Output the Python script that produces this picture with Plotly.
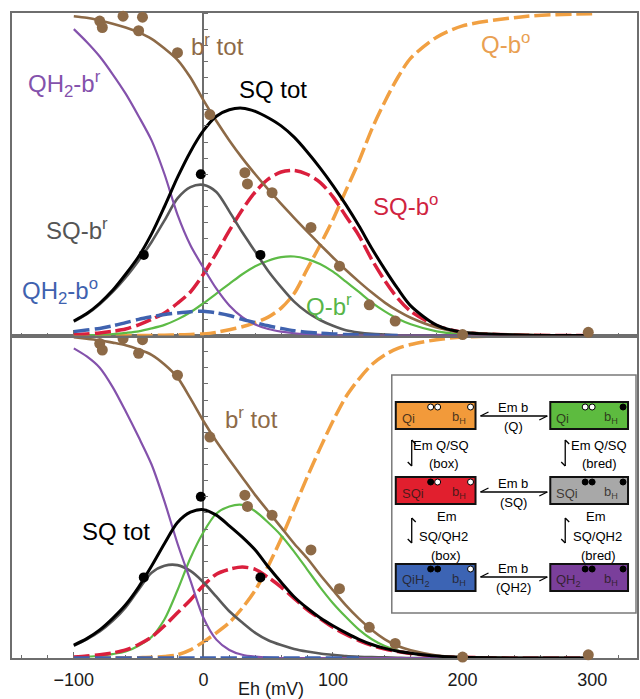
import plotly.graph_objects as go

# ---------------------------------------------------------------- data
# Redox potential grid (mV)
EH = [-100, -90, -80, -70, -60, -50, -40, -30, -20, -10, 0, 10, 20, 30, 40, 50,
      60, 70, 80, 90, 100, 110, 120, 130, 140, 150, 160, 180, 200, 250, 300]

# Upper panel: fractional populations of each Qi / heme bH state
top_qh2_bred = [0.95, 0.91, 0.865, 0.81, 0.75, 0.68, 0.605, 0.50, 0.375, 0.28, 0.21, 0.145,
                0.093, 0.057, 0.034, 0.02, 0.012, 0.007, 0.004, 0.002, 0.001, 0, 0, 0, 0,
                0, 0, 0, 0, 0, 0]
top_br_tot = [0.99, 0.985, 0.977, 0.967, 0.955, 0.94, 0.92, 0.89, 0.855, 0.80, 0.73, 0.665,
              0.605, 0.55, 0.50, 0.453, 0.408, 0.365, 0.323, 0.282, 0.242, 0.203, 0.167,
              0.133, 0.102, 0.076, 0.055, 0.025, 0.01, 0.002, 0.0]
top_sq_tot = [0.045, 0.068, 0.10, 0.14, 0.19, 0.245, 0.315, 0.40, 0.49, 0.57, 0.635, 0.68,
              0.70, 0.705, 0.695, 0.675, 0.65, 0.615, 0.57, 0.52, 0.465, 0.405, 0.34, 0.27,
              0.205, 0.145, 0.092, 0.032, 0.01, 0.001, 0.0]
top_sq_bred = [0.043, 0.066, 0.097, 0.135, 0.18, 0.232, 0.29, 0.357, 0.425, 0.46, 0.467,
               0.445, 0.385, 0.32, 0.26, 0.20, 0.15, 0.105, 0.072, 0.048, 0.03, 0.016, 0.009,
               0.005, 0.003, 0.001, 0, 0, 0, 0, 0]
top_sq_box = [0.003, 0.005, 0.008, 0.013, 0.02, 0.033, 0.05, 0.07, 0.10, 0.135, 0.19, 0.255,
              0.325, 0.39, 0.445, 0.485, 0.507, 0.512, 0.50, 0.475, 0.43, 0.37, 0.31, 0.235,
              0.17, 0.115, 0.075, 0.03, 0.01, 0.001, 0.0]
top_q_bred = [0.0, 0.001, 0.002, 0.004, 0.008, 0.013, 0.022, 0.033, 0.05, 0.072, 0.10, 0.13,
              0.16, 0.19, 0.215, 0.232, 0.243, 0.245, 0.237, 0.222, 0.198, 0.167, 0.135, 0.102,
              0.075, 0.052, 0.035, 0.013, 0.004, 0.0, 0.0]
top_qh2_box = [0.012, 0.017, 0.022, 0.03, 0.04, 0.05, 0.058, 0.065, 0.07, 0.074, 0.075, 0.07,
               0.062, 0.05, 0.04, 0.03, 0.022, 0.015, 0.01, 0.007, 0.005, 0.003, 0.002, 0.001,
               0.0, 0.0]
top_q_box = [0, 0, 0, 0, 0, 0, 0, 0.001, 0.002, 0.003, 0.005, 0.01, 0.018, 0.027, 0.04,
             0.057, 0.085, 0.13, 0.205, 0.28, 0.36, 0.45, 0.54, 0.64, 0.725, 0.80, 0.86,
             0.925, 0.96, 0.99, 0.998]

# Lower panel
bot_qh2_bred = [0.96, 0.935, 0.90, 0.84, 0.765, 0.685, 0.60, 0.485, 0.355, 0.24, 0.125,
                0.057, 0.025, 0.01, 0.004, 0.001, 0, 0, 0, 0, 0, 0, 0, 0, 0, 0, 0, 0, 0, 0, 0]
bot_br_tot = [0.995, 0.99, 0.985, 0.978, 0.97, 0.957, 0.94, 0.91, 0.87, 0.805, 0.735, 0.672,
              0.615, 0.56, 0.505, 0.455, 0.405, 0.355, 0.31, 0.258, 0.21, 0.163, 0.122, 0.087,
              0.058, 0.037, 0.024, 0.008, 0.002, 0.0, 0.0]
bot_sq_tot = [0.04, 0.06, 0.087, 0.123, 0.165, 0.22, 0.285, 0.355, 0.42, 0.452, 0.46, 0.443,
              0.41, 0.375, 0.335, 0.283, 0.235, 0.19, 0.155, 0.125, 0.10, 0.078, 0.058, 0.042,
              0.03, 0.021, 0.015, 0.006, 0.002, 0.0, 0.0]
bot_sq_bred = [0.038, 0.058, 0.082, 0.115, 0.157, 0.212, 0.264, 0.286, 0.288, 0.27, 0.235,
               0.19, 0.145, 0.11, 0.078, 0.055, 0.04, 0.028, 0.02, 0.014, 0.01, 0.006, 0.004,
               0.003, 0.002, 0.001, 0, 0, 0, 0, 0]
bot_sq_box = [0.003, 0.006, 0.01, 0.016, 0.025, 0.042, 0.065, 0.10, 0.14, 0.18, 0.225, 0.26,
              0.275, 0.282, 0.275, 0.25, 0.22, 0.185, 0.15, 0.122, 0.095, 0.073, 0.054, 0.039,
              0.028, 0.02, 0.014, 0.005, 0.002, 0.0, 0.0]
bot_q_bred = [0.002, 0.004, 0.007, 0.012, 0.02, 0.038, 0.065, 0.12, 0.21, 0.31, 0.39, 0.448,
              0.47, 0.475, 0.455, 0.42, 0.38, 0.33, 0.275, 0.22, 0.17, 0.127, 0.088, 0.058,
              0.037, 0.023, 0.014, 0.004, 0.001, 0.0, 0.0]
bot_qh2_box = [0, 0, 0, 0, 0, 0, 0, 0, 0, 0, 0, 0, 0, 0, 0, 0, 0, 0, 0, 0, 0, 0, 0]
bot_q_box = [0, 0, 0, 0, 0, 0.001, 0.002, 0.005, 0.01, 0.025, 0.05, 0.078, 0.11, 0.155, 0.21,
             0.285, 0.37, 0.465, 0.56, 0.65, 0.735, 0.81, 0.865, 0.91, 0.94, 0.96, 0.972,
             0.987, 0.995, 0.999, 1.0]

# Measured points (heme bH reduction and SQ EPR signal)
br_pts_eh = [-80, -78, -62, -47, -50, -20, 5, 32, 34, 53, 83, 105, 128, 148, 200, 297]
br_pts_val = [0.975, 0.955, 0.99, 0.987, 0.945, 0.877, 0.685, 0.505, 0.47, 0.443, 0.335,
              0.215, 0.095, 0.045, 0.003, 0.01]
sq_pts_eh = [-46, -2, 44]
sq_pts_val = [0.25, 0.5, 0.25]

X_TICKS = [-100, 0, 100, 200, 300]
X_RANGE = [-147.7, 334.6]

# ---------------------------------------------------------------- styles
BROWN = "#8D6A47"
PURPLE = "#8452AC"
GRAY = "#5A5A5A"
RED = "#DA1F3D"
GREEN = "#5DBB46"
BLUE = "#3F62AF"
ORANGE = "#F1A042"
AXIS = "#6E6E6E"
FONT = "Arial, Liberation Sans, sans-serif"
DASH = "16px,5px"

W, H = 640, 699
ML, MR, MT, MB = 12, 1, 13, 41


def px_x(px):
    return (px - ML) / (W - ML - MR)


def px_y(py):
    return (H - MB - py) / (H - MT - MB)


fig = go.Figure()


def add_curve(vals, color, width, dash, top):
    fig.add_trace(go.Scatter(
        x=EH[:len(vals)], y=vals, mode="lines",
        line=dict(color=color, width=width, dash=dash, shape="spline", smoothing=0.8),
        xaxis="x2" if top else "x", yaxis="y2" if top else "y",
        cliponaxis=False, showlegend=False, hoverinfo="skip"))


def add_points(xs, ys, color, size, top):
    fig.add_trace(go.Scatter(
        x=xs, y=ys, mode="markers", marker=dict(color=color, size=size),
        xaxis="x2" if top else "x", yaxis="y2" if top else "y",
        cliponaxis=False, showlegend=False, hoverinfo="skip"))


for top, q_box, q_bred, sq_box, sq_bred, qh2_bred, qh2_box, br_tot, sq_tot in [
        (True, top_q_box, top_q_bred, top_sq_box, top_sq_bred, top_qh2_bred, top_qh2_box,
         top_br_tot, top_sq_tot),
        (False, bot_q_box, bot_q_bred, bot_sq_box, bot_sq_bred, bot_qh2_bred, bot_qh2_box,
         bot_br_tot, bot_sq_tot)]:
    add_curve(q_box, ORANGE, 3.5, DASH, top)
    add_curve(q_bred, GREEN, 2.2, "solid", top)
    add_curve(sq_box, RED, 3.5, DASH, top)
    add_curve(sq_bred, GRAY, 2.6, "solid", top)
    add_curve(qh2_bred, PURPLE, 2.2, "solid", top)
    add_curve(br_tot, BROWN, 2.6, "solid", top)
    add_curve(sq_tot, "black", 3.0, "solid", top)
    add_curve(qh2_box, BLUE, 3.5, DASH, top)
    add_points(br_pts_eh, br_pts_val, BROWN, 11, top)
    add_points(sq_pts_eh, sq_pts_val, "black", 10, top)

# carriers for the minor-tick axes drawn along Eh = 0
for ya in ("y3", "y4"):
    fig.add_trace(go.Scatter(x=[None], y=[None], xaxis="x" if ya == "y3" else "x2",
                             yaxis=ya, showlegend=False, hoverinfo="skip"))

zero_pos = (0 - X_RANGE[0]) / (X_RANGE[1] - X_RANGE[0])

xcommon = dict(range=X_RANGE, showline=True, mirror=True, linecolor=AXIS, linewidth=1.5,
               zeroline=True, zerolinecolor=AXIS, zerolinewidth=1.5, showgrid=False,
               tickvals=X_TICKS, ticks="inside", ticklen=6, tickcolor=AXIS, tickwidth=1,
               minor=dict(dtick=20, tick0=0, ticks="inside", ticklen=3, tickcolor=AXIS,
                          showgrid=False),
               layer="below traces", domain=[0, 1])
ycommon = dict(range=[0, 1], showline=True, mirror=True, linecolor=AXIS, linewidth=1.5,
               zeroline=False, showgrid=False, ticks="", showticklabels=False)
ytick_axis = dict(range=[0, 1], anchor="free", position=zero_pos, side="right",
                  ticks="outside", ticklen=4, tickcolor=AXIS, tickwidth=1, dtick=0.05,
                  tick0=0, showticklabels=False, showline=False, showgrid=False,
                  zeroline=False)

fig.update_layout(
    width=W, height=H, margin=dict(l=ML, r=MR, t=MT, b=MB),
    paper_bgcolor="white", plot_bgcolor="white",
    font=dict(family=FONT, color="black"),
    xaxis=dict(**xcommon, anchor="y", tickfont=dict(size=18, color="#1a1a1a"),
               ticklabelstandoff=5),
    xaxis2=dict(**xcommon, anchor="y2", matches="x", showticklabels=False),
    yaxis=dict(**ycommon, domain=[0, 0.5], anchor="x"),
    yaxis2=dict(**ycommon, domain=[0.5, 1], anchor="x2"),
    yaxis3=dict(**ytick_axis, overlaying="y"),
    yaxis4=dict(**ytick_axis, overlaying="y2"),
)

# ---------------------------------------------------------------- curve labels
labels = [
    ("QH<sub>2</sub>-b<sup>r</sup>", 65, 84, PURPLE),
    ("b<sup>r</sup> tot", 218, 45, BROWN),
    ("SQ tot", 274, 89, "black"),
    ("SQ-b<sup>r</sup>", 77, 229, "#555555"),
    ("QH<sub>2</sub>-b<sup>o</sup>", 60, 291, BLUE),
    ("Q-b<sup>o</sup>", 507, 43, "#E9A052"),
    ("SQ-b<sup>o</sup>", 407, 205, "#D0243F"),
    ("Q-b<sup>r</sup>", 330, 305, "#58B548"),
    ("b<sup>r</sup> tot", 252, 418, BROWN),
    ("SQ tot", 116, 531, "black"),
]
for text, x, y, color in labels:
    fig.add_annotation(text=text, x=px_x(x), y=px_y(y), xref="paper", yref="paper",
                       showarrow=False, xanchor="center", yanchor="middle",
                       font=dict(size=24, color=color, family=FONT))

fig.add_annotation(text="Eh (mV)", x=px_x(272), y=px_y(689), xref="paper", yref="paper",
                   showarrow=False, xanchor="center", yanchor="middle",
                   font=dict(size=18, color="#1a1a1a", family=FONT))

# ---------------------------------------------------------------- scheme inset
shapes = []


def rect(x0, y0, x1, y1, fill, line_color, lw):
    shapes.append(dict(type="rect", xref="paper", yref="paper",
                       x0=px_x(x0), x1=px_x(x1), y0=px_y(y1), y1=px_y(y0),
                       fillcolor=fill, line=dict(color=line_color, width=lw), layer="above"))


def seg(x0, y0, x1, y1, lw=1.3):
    shapes.append(dict(type="line", xref="paper", yref="paper",
                       x0=px_x(x0), x1=px_x(x1), y0=px_y(y0), y1=px_y(y1),
                       line=dict(color="black", width=lw), layer="above"))


def dot(cx, cy, filled, r=3):
    shapes.append(dict(type="circle", xref="paper", yref="paper",
                       x0=px_x(cx - r), x1=px_x(cx + r), y0=px_y(cy + r), y1=px_y(cy - r),
                       fillcolor="black" if filled else "white",
                       line=dict(color="black", width=1), layer="above"))


def text(t, x, y, size=13, color="black", anchor="center"):
    fig.add_annotation(text=t, x=px_x(x), y=px_y(y), xref="paper", yref="paper",
                       showarrow=False, xanchor=anchor, yanchor="middle",
                       font=dict(size=size, color=color, family=FONT))


rect(393, 375, 638, 613, "white", "#7a7a7a", 1.5)

COLS = [(397, 477), (552, 630)]
ROWS = [(402, 429), (477, 504), (564, 591)]
states = [
    # (col, row, fill, qi label, qi electrons, bH reduced)
    (0, 0, "#F29A3A", "Qi", (False, False), False),
    (1, 0, "#5DBB3F", "Qi", (False, False), True),
    (0, 1, "#E11F2E", "SQi", (True, False), False),
    (1, 1, "#A8A8A8", "SQi", (True, True), True),
    (0, 2, "#3C64B4", "QiH<sub>2</sub>", (True, True), False),
    (1, 2, "#7A3F9B", "QH<sub>2</sub>", (True, True), True),
]
for c, r, fill, lab, qi_e, bh in states:
    x0, x1 = COLS[c]
    y0, y1 = ROWS[r]
    rect(x0, y0, x1, y1, fill, "#111111", 2)
    text(lab, x0 + 4, y0 + 16, size=13, color="rgba(35,25,20,0.8)", anchor="left")
    text("b<sub>H</sub>", x1 - 17, y0 + 15, size=13, color="rgba(35,25,20,0.8)")
    dot(x0 + 35, y0 + 5, qi_e[0])
    dot(x0 + 42, y0 + 5, qi_e[1])
    dot(x1 - 5, y0 + 5, bh)

# horizontal equilibria between heme states
for (yl, t1, t2, ya, yb) in [(416, "Em b", "(Q)", 407, 426),
                             (492, "Em b", "(SQ)", 483, 502),
                             (577, "Em b", "(QH2)", 568, 587)]:
    seg(482, yl, 549, yl)
    seg(482, yl, 490, yl - 4)
    seg(549, yl, 541, yl + 4)
    text(t1, 515, ya)
    text(t2, 515, yb)

# vertical equilibria between Qi states
for xv in (413, 567):
    for (ya, yb) in [(440, 466), (518, 543)]:
        seg(xv, ya, xv, yb)
        seg(xv, ya, xv + 4, ya + 4)
        seg(xv, yb, xv - 4, yb - 4)

text("Em Q/SQ", 442, 445)
text("(box)", 445, 463)
text("Em Q/SQ", 601, 445)
text("(bred)", 601, 463)
text("Em", 448, 516)
text("SQ/QH2", 445, 536)
text("(box)", 447, 555)
text("Em", 598, 516)
text("SQ/QH2", 599, 536)
text("(bred)", 600, 555)

fig.update_layout(shapes=shapes)

fig.write_html("out.html")
